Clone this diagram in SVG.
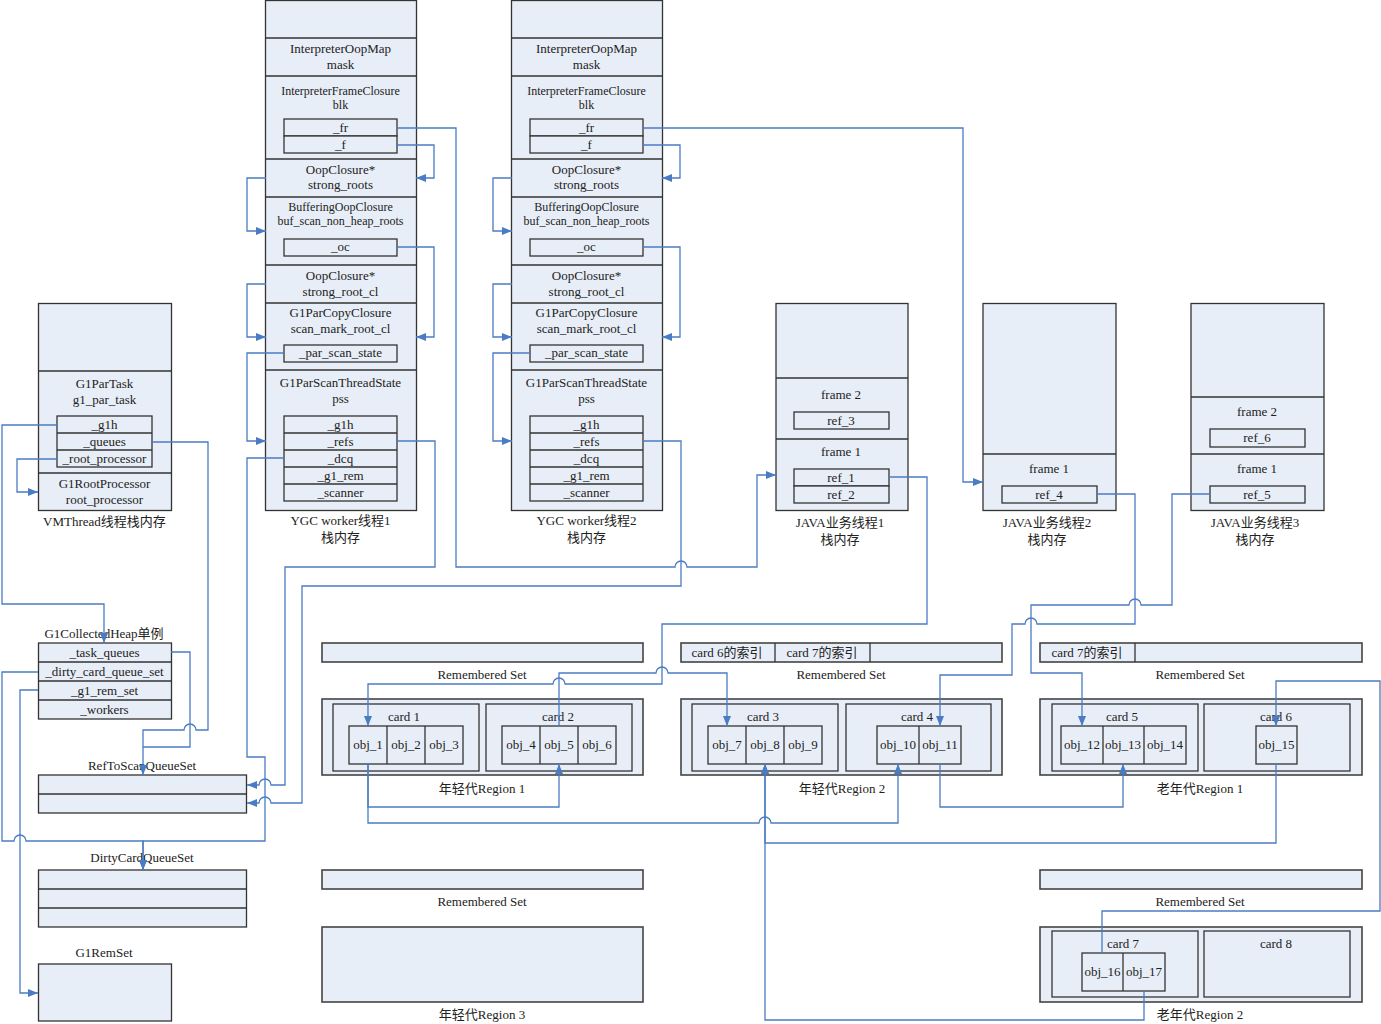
<svg xmlns="http://www.w3.org/2000/svg" width="1381" height="1024" viewBox="0 0 1381 1024">
<style>
.bg{fill:#ffffff}
.box{fill:#E8EEF7;stroke:#333;stroke-width:1.3}
.rg{fill:#E8EEF7;stroke:#444;stroke-width:1.6}
.sep{fill:none;stroke:#333;stroke-width:1.3}
.t{font-family:"Liberation Serif","Noto Sans CJK SC",serif;font-size:13px;fill:#222;text-anchor:middle}
.s{font-size:12px}
.c{fill:none;stroke:#4A7CC4;stroke-width:1.3;marker-end:url(#ah)}
.n{fill:none;stroke:#4A7CC4;stroke-width:1.3}
</style>
<defs>
<marker id="ah" markerUnits="userSpaceOnUse" markerWidth="10" markerHeight="8" viewBox="0 0 10 8" refX="10" refY="4" orient="auto">
<path d="M0 0L10 4L0 8z" fill="#4A7CC4"/>
</marker>
</defs>
<rect class="bg" x="0" y="0" width="1381" height="1024"/>

<g id="ygc1">
<rect class="box" x="265.5" y="0.5" width="151" height="510"/>
<path class="sep" d="M265.5 38H416.5M265.5 76H416.5M265.5 159H416.5M265.5 197H416.5M265.5 265H416.5M265.5 303H416.5M265.5 370H416.5"/>
<rect class="box" x="284" y="119" width="113" height="17"/>
<rect class="box" x="284" y="136" width="113" height="17"/>
<rect class="box" x="284" y="239" width="113" height="17"/>
<rect class="box" x="284" y="345" width="113" height="17"/>
<rect class="box" x="284" y="416" width="113" height="85"/>
<path class="sep" d="M284 433H397M284 450H397M284 467H397M284 484H397"/>
<text class="t" x="340.5" y="53">InterpreterOopMap</text>
<text class="t" x="340.5" y="69">mask</text>
<text class="t s" x="340.5" y="95">InterpreterFrameClosure</text>
<text class="t s" x="340.5" y="109">blk</text>
<text class="t" x="340.5" y="132">_fr</text>
<text class="t" x="340.5" y="149">_f</text>
<text class="t" x="340.5" y="174">OopClosure*</text>
<text class="t" x="340.5" y="189">strong_roots</text>
<text class="t s" x="340.5" y="211">BufferingOopClosure</text>
<text class="t s" x="340.5" y="225">buf_scan_non_heap_roots</text>
<text class="t" x="340.5" y="251">_oc</text>
<text class="t" x="340.5" y="280">OopClosure*</text>
<text class="t" x="340.5" y="296">strong_root_cl</text>
<text class="t" x="340.5" y="317">G1ParCopyClosure</text>
<text class="t" x="340.5" y="333">scan_mark_root_cl</text>
<text class="t" x="340.5" y="357">_par_scan_state</text>
<text class="t" x="340.5" y="387">G1ParScanThreadState</text>
<text class="t" x="340.5" y="403">pss</text>
<text class="t" x="340.5" y="429">_g1h</text>
<text class="t" x="340.5" y="446">_refs</text>
<text class="t" x="340.5" y="463">_dcq</text>
<text class="t" x="340.5" y="480">_g1_rem</text>
<text class="t" x="340.5" y="497">_scanner</text>
<text class="t" x="340.5" y="525">YGC worker线程1</text>
<text class="t" x="340.5" y="542">栈内存</text>
</g>

<g id="ygc2" transform="translate(246 0)">
<rect class="box" x="265.5" y="0.5" width="151" height="510"/>
<path class="sep" d="M265.5 38H416.5M265.5 76H416.5M265.5 159H416.5M265.5 197H416.5M265.5 265H416.5M265.5 303H416.5M265.5 370H416.5"/>
<rect class="box" x="284" y="119" width="113" height="17"/>
<rect class="box" x="284" y="136" width="113" height="17"/>
<rect class="box" x="284" y="239" width="113" height="17"/>
<rect class="box" x="284" y="345" width="113" height="17"/>
<rect class="box" x="284" y="416" width="113" height="85"/>
<path class="sep" d="M284 433H397M284 450H397M284 467H397M284 484H397"/>
<text class="t" x="340.5" y="53">InterpreterOopMap</text>
<text class="t" x="340.5" y="69">mask</text>
<text class="t s" x="340.5" y="95">InterpreterFrameClosure</text>
<text class="t s" x="340.5" y="109">blk</text>
<text class="t" x="340.5" y="132">_fr</text>
<text class="t" x="340.5" y="149">_f</text>
<text class="t" x="340.5" y="174">OopClosure*</text>
<text class="t" x="340.5" y="189">strong_roots</text>
<text class="t s" x="340.5" y="211">BufferingOopClosure</text>
<text class="t s" x="340.5" y="225">buf_scan_non_heap_roots</text>
<text class="t" x="340.5" y="251">_oc</text>
<text class="t" x="340.5" y="280">OopClosure*</text>
<text class="t" x="340.5" y="296">strong_root_cl</text>
<text class="t" x="340.5" y="317">G1ParCopyClosure</text>
<text class="t" x="340.5" y="333">scan_mark_root_cl</text>
<text class="t" x="340.5" y="357">_par_scan_state</text>
<text class="t" x="340.5" y="387">G1ParScanThreadState</text>
<text class="t" x="340.5" y="403">pss</text>
<text class="t" x="340.5" y="429">_g1h</text>
<text class="t" x="340.5" y="446">_refs</text>
<text class="t" x="340.5" y="463">_dcq</text>
<text class="t" x="340.5" y="480">_g1_rem</text>
<text class="t" x="340.5" y="497">_scanner</text>
<text class="t" x="340.5" y="525">YGC worker线程2</text>
<text class="t" x="340.5" y="542">栈内存</text>
</g>

<g id="vmthread">
<rect class="box" x="38.5" y="303.5" width="133" height="207"/>
<path class="sep" d="M38.5 371H171.5M38.5 473H171.5"/>
<rect class="box" x="57" y="416" width="95" height="51"/>
<path class="sep" d="M57 433H152M57 450H152"/>
<text class="t" x="104.5" y="388">G1ParTask</text>
<text class="t" x="104.5" y="404">g1_par_task</text>
<text class="t" x="104.5" y="429">_g1h</text>
<text class="t" x="104.5" y="446">_queues</text>
<text class="t" x="104.5" y="463">_root_processor</text>
<text class="t" x="104.5" y="488">G1RootProcessor</text>
<text class="t" x="104.5" y="504">root_processor</text>
<text class="t" x="104.5" y="526">VMThread线程栈内存</text>
</g>

<g id="g1heap">
<text class="t" x="104" y="638">G1CollectedHeap单例</text>
<rect class="box" x="38.5" y="643" width="133" height="76"/>
<path class="sep" d="M38.5 662H171.5M38.5 681H171.5M38.5 700H171.5"/>
<text class="t" x="104.5" y="657">_task_queues</text>
<text class="t" x="104.5" y="676">_dirty_card_queue_set</text>
<text class="t" x="104.5" y="695">_g1_rem_set</text>
<text class="t" x="104.5" y="714">_workers</text>
</g>

<g id="reftoscan">
<text class="t" x="142" y="770">RefToScanQueueSet</text>
<rect class="box" x="38.5" y="775" width="208" height="38"/>
<path class="sep" d="M38.5 794H246.5"/>
</g>

<g id="dirtycard">
<text class="t" x="142" y="862">DirtyCardQueueSet</text>
<rect class="box" x="38.5" y="870" width="208" height="57"/>
<path class="sep" d="M38.5 889H246.5M38.5 908H246.5"/>
</g>

<g id="g1remset">
<text class="t" x="104" y="957">G1RemSet</text>
<rect class="box" x="38.5" y="964" width="133" height="57"/>
</g>

<g id="java1">
<rect class="box" x="776" y="303.5" width="132" height="207"/>
<path class="sep" d="M776 378H908M776 439H908"/>
<text class="t" x="841" y="399">frame 2</text>
<rect class="box" x="794" y="412" width="95" height="17"/>
<text class="t" x="841" y="425">ref_3</text>
<text class="t" x="841" y="456">frame 1</text>
<rect class="box" x="794" y="469" width="95" height="17"/>
<rect class="box" x="794" y="486" width="95" height="17"/>
<text class="t" x="841" y="482">ref_1</text>
<text class="t" x="841" y="499">ref_2</text>
<text class="t" x="840" y="527">JAVA业务线程1</text>
<text class="t" x="840" y="544">栈内存</text>
</g>

<g id="java2">
<rect class="box" x="983" y="303.5" width="133" height="207"/>
<path class="sep" d="M983 454H1116"/>
<text class="t" x="1049" y="473">frame 1</text>
<rect class="box" x="1002" y="486" width="95" height="17"/>
<text class="t" x="1049" y="499">ref_4</text>
<text class="t" x="1047" y="527">JAVA业务线程2</text>
<text class="t" x="1047" y="544">栈内存</text>
</g>

<g id="java3">
<rect class="box" x="1191" y="303.5" width="133" height="207"/>
<path class="sep" d="M1191 397H1324M1191 454H1324"/>
<text class="t" x="1257" y="416">frame 2</text>
<rect class="box" x="1210" y="429" width="95" height="18"/>
<text class="t" x="1257" y="442">ref_6</text>
<text class="t" x="1257" y="473">frame 1</text>
<rect class="box" x="1210" y="486" width="95" height="17"/>
<text class="t" x="1257" y="499">ref_5</text>
<text class="t" x="1255" y="527">JAVA业务线程3</text>
<text class="t" x="1255" y="544">栈内存</text>
</g>

<g id="young1">
<rect class="rg" x="322" y="643" width="321" height="19"/>
<text class="t" x="482" y="679">Remembered Set</text>
<rect class="rg" x="322" y="699" width="321" height="76"/>
<rect class="box" x="333" y="704" width="146" height="67"/>
<text class="t" x="404" y="721">card 1</text>
<rect class="box" x="349" y="726" width="114" height="38"/>
<path class="sep" d="M387 726V764M425 726V764"/>
<text class="t" x="368" y="749">obj_1</text>
<text class="t" x="406" y="749">obj_2</text>
<text class="t" x="444" y="749">obj_3</text>
<rect class="box" x="486" y="704" width="146" height="67"/>
<text class="t" x="558" y="721">card 2</text>
<rect class="box" x="502" y="726" width="114" height="38"/>
<path class="sep" d="M540 726V764M578 726V764"/>
<text class="t" x="521" y="749">obj_4</text>
<text class="t" x="559" y="749">obj_5</text>
<text class="t" x="597" y="749">obj_6</text>
<text class="t" x="482" y="793">年轻代Region 1</text>
</g>

<g id="young2">
<rect class="rg" x="681" y="643" width="321" height="19"/>
<path class="sep" d="M775 643V662M870 643V662"/>
<text class="t" x="727" y="657">card 6的索引</text>
<text class="t" x="822" y="657">card 7的索引</text>
<text class="t" x="841" y="679">Remembered Set</text>
<rect class="rg" x="681" y="699" width="321" height="76"/>
<rect class="box" x="692" y="704" width="146" height="67"/>
<text class="t" x="763" y="721">card 3</text>
<rect class="box" x="708" y="726" width="114" height="38"/>
<path class="sep" d="M746 726V764M784 726V764"/>
<text class="t" x="727" y="749">obj_7</text>
<text class="t" x="765" y="749">obj_8</text>
<text class="t" x="803" y="749">obj_9</text>
<rect class="box" x="846" y="704" width="145" height="67"/>
<text class="t" x="917" y="721">card 4</text>
<rect class="box" x="877" y="726" width="84" height="38"/>
<path class="sep" d="M919 726V764"/>
<text class="t" x="898" y="749">obj_10</text>
<text class="t" x="940" y="749">obj_11</text>
<text class="t" x="842" y="793">年轻代Region 2</text>
</g>

<g id="old1">
<rect class="rg" x="1040" y="643" width="322" height="19"/>
<path class="sep" d="M1135 643V662"/>
<text class="t" x="1087" y="657">card 7的索引</text>
<text class="t" x="1200" y="679">Remembered Set</text>
<rect class="rg" x="1040" y="699" width="322" height="76"/>
<rect class="box" x="1052" y="704" width="146" height="67"/>
<text class="t" x="1122" y="721">card 5</text>
<rect class="box" x="1061" y="726" width="125" height="38"/>
<path class="sep" d="M1103 726V764M1144 726V764"/>
<text class="t" x="1082" y="749">obj_12</text>
<text class="t" x="1123" y="749">obj_13</text>
<text class="t" x="1165" y="749">obj_14</text>
<rect class="box" x="1204" y="704" width="146" height="67"/>
<text class="t" x="1276" y="721">card 6</text>
<rect class="box" x="1256" y="726" width="41" height="38"/>
<text class="t" x="1276.5" y="749">obj_15</text>
<text class="t" x="1200" y="793">老年代Region 1</text>
</g>

<g id="young3">
<rect class="rg" x="322" y="870" width="321" height="19"/>
<text class="t" x="482" y="906">Remembered Set</text>
<rect class="rg" x="322" y="927" width="321" height="75"/>
<text class="t" x="482" y="1019">年轻代Region 3</text>
</g>

<g id="old2">
<rect class="rg" x="1040" y="870" width="322" height="19"/>
<text class="t" x="1200" y="906">Remembered Set</text>
<rect class="rg" x="1040" y="927" width="322" height="75"/>
<rect class="box" x="1052" y="931" width="146" height="66"/>
<text class="t" x="1123" y="948">card 7</text>
<rect class="box" x="1082" y="953" width="83" height="38"/>
<path class="sep" d="M1123 953V991"/>
<text class="t" x="1102.5" y="976">obj_16</text>
<text class="t" x="1144" y="976">obj_17</text>
<rect class="box" x="1204" y="931" width="146" height="66"/>
<text class="t" x="1276" y="948">card 8</text>
<text class="t" x="1200" y="1019">老年代Region 2</text>
</g>

<g id="connectors">
<path class="c" d="M397 145H434V178H416"/>
<path class="c" d="M266 178H247V231H266"/>
<path class="c" d="M397 247H434V337H416"/>
<path class="c" d="M266 284H247V337H266"/>
<path class="c" d="M284 353H247V441H266"/>
<path class="c" d="M397 441H435V567H285V785H271A6 6 0 0 0 259 785H247"/>
<path class="c" d="M397 128H456V567H675A6 6 0 0 1 687 567H757V475H776"/>
<path class="c" d="M284 458H247V757H265V841H143V870"/>
<path class="c" d="M643 145H680V178H662"/>
<path class="c" d="M512 178H493V231H512"/>
<path class="c" d="M643 247H680V337H662"/>
<path class="c" d="M512 284H493V337H512"/>
<path class="c" d="M530 353H493V441H512"/>
<path class="c" d="M643 441H681V586H302V803H271A6 6 0 0 0 259 803H247"/>
<path class="c" d="M643 128H963V482H983"/>
<path class="c" d="M57 425H2V604H104V643"/>
<path class="c" d="M57 459H17V492H38"/>
<path class="c" d="M152 442H208V730H196A6 6 0 0 0 184 730H143V775"/>
<path class="n" d="M171 652H190V747H143"/>
<path class="c" d="M38 672H2V841H14A6 6 0 0 1 26 841H143V870"/>
<path class="c" d="M38 690H20V993H38"/>
<path class="c" d="M889 477H927V624H662V684H565A6 6 0 0 0 553 684H368V726"/>
<path class="c" d="M559 726V673H656A6 6 0 0 1 668 673H727V726"/>
<path class="c" d="M368 764V807H559V764"/>
<path class="c" d="M368 764V823H759A6 6 0 0 1 771 823H898V764"/>
<path class="c" d="M1276 764V843H765V764"/>
<path class="c" d="M1144 991V1020H765V764"/>
<path class="c" d="M940 764V807H1123V764"/>
<path class="c" d="M1210 494H1172V605H1141A6 6 0 0 0 1129 605H1031V673H1082V726"/>
<path class="c" d="M1097 494H1135V624H1037A6 6 0 0 0 1025 624H1012V675H940V726"/>
<path class="c" d="M1102 953V911H1380V681H1276V726"/>
</g>
</svg>
